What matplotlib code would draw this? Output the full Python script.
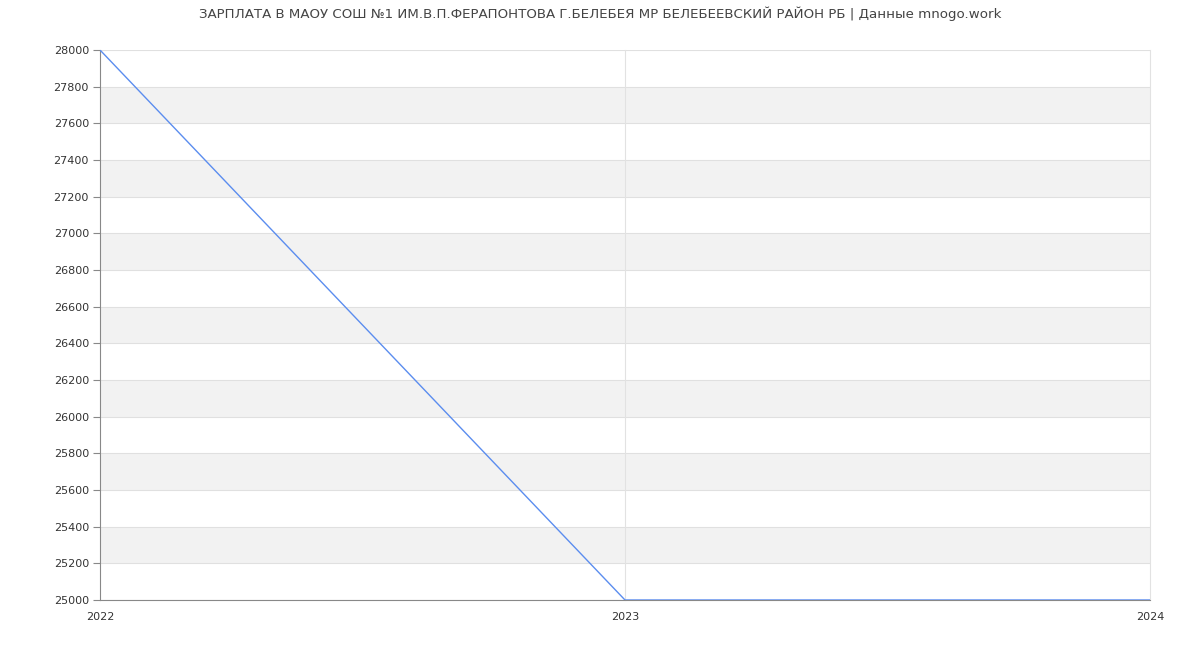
import matplotlib
matplotlib.use('Agg')
import matplotlib.pyplot as plt
import numpy as np

years = [2022, 2023, 2024]
salary = [28000, 25000, 25000]
yticks = list(range(25000, 28001, 200))

fig = plt.figure(figsize=(12, 6.5), dpi=100)
ax = fig.add_axes([100 / 1200, 50 / 650, 1050 / 1200, 550 / 650])

# alternating bands
for i, lo in enumerate(yticks[:-1]):
  if i % 2 == 1:
    ax.axhspan(lo, lo + 200, color='#f2f2f2', zorder=0, lw=0)
for y in yticks:
  ax.axhline(y, color='#e0e0e0', lw=0.8, zorder=1)
for x in years[1:]:
  ax.axvline(x, color='#e2e2e2', lw=0.8, zorder=1, clip_on=False)

ax.plot(years, salary, color='#5b8def', lw=1.0, zorder=3)

ax.set_xlim(2022, 2024)
ax.set_ylim(25000, 28000)
ax.set_yticks(yticks)
ax.set_yticklabels([str(v) for v in yticks])
ax.set_xticks(years)
ax.set_xticklabels([str(v) for v in years])

for s in ['top', 'right']:
  ax.spines[s].set_visible(False)
ax.spines['left'].set_color('#888888')
ax.spines['bottom'].set_color('#888888')
ax.tick_params(axis='y', length=5, color='#888888', labelsize=8, labelcolor='#333333', pad=3)
ax.tick_params(axis='x', length=0, labelsize=8, labelcolor='#333333', pad=9)

fig.text(0.5, 1 - 14 / 650, 'ЗАРПЛАТА В МАОУ СОШ №1 ИМ.В.П.ФЕРАПОНТОВА Г.БЕЛЕБЕЯ МР БЕЛЕБЕЕВСКИЙ РАЙОН РБ | Данные mnogo.work',
         ha='center', va='center', fontsize=9.65, color='#444444')

plt.savefig('out.png', dpi=100)
